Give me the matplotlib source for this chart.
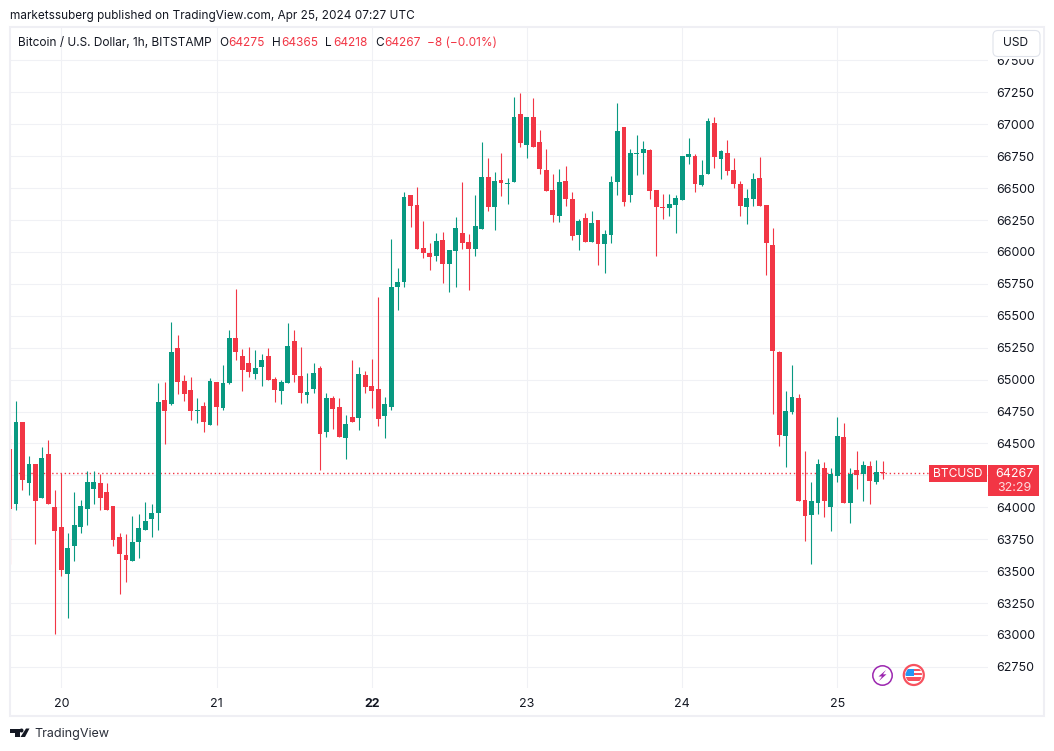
import numpy as np
import matplotlib
matplotlib.use('Agg')
import matplotlib.pyplot as plt
from matplotlib.patches import Rectangle, Circle, Polygon, FancyBboxPatch

# hourly candles, first one is Apr 19 16:00, hour 0 is Apr 20 00:00
opens = [64460, 64029, 64672, 64194, 64343, 64069, 64421, 64006,
         63849, 63481, 63700, 63849, 63990, 64147, 64194, 64123, 64014, 63771, 63630, 63583, 63732, 63826, 63912, 63959, 64844, 64813, 65244, 64993, 64922, 64758, 64797, 64648,
         64985, 64781, 64977, 65330, 65187, 65132, 65046, 65101, 65187, 65007, 64913, 64976, 65305, 65030, 64882, 64929, 65093, 64592, 64858, 64788, 64545, 64709, 64701, 65038,
         64952, 64929, 64717, 64788, 65728, 65767, 66448, 66370, 66033, 65994, 65970, 66096, 65908, 66010, 66149, 66078, 66023, 66180, 66587, 66352, 66564, 66532, 66548, 67081,
         66838, 67057, 66861, 66642, 66485, 66282, 66556, 66415, 66133, 66266, 66078, 66250, 66062, 66133, 66548, 66979, 66446, 66767, 66775, 66799, 66485, 66352, 66344, 66368,
         66408, 66744, 66752, 66525, 66611, 67011, 66729, 66776, 66643, 66533, 66353, 66416, 66580, 66369, 66055, 65217, 64559, 64747, 64857, 64058, 63940, 64034, 64308, 64003,
         64246, 64551, 64034, 64293, 64261, 64324, 64199, 64275]
highs = [64570, 64836, 64672, 64398, 64343, 64476, 64531, 64139,
         64270, 63802, 64116, 64061, 64288, 64288, 64257, 64194, 64014, 63802, 63794, 63935, 63951, 64045, 64022, 64977, 64985, 65455, 65353, 65040, 65024, 64860, 64821, 65009,
         64985, 65118, 65392, 65713, 65242, 65258, 65234, 65203, 65250, 65023, 64999, 65446, 65391, 65258, 65054, 65132, 65109, 64897, 64874, 64858, 64725, 65156, 65101, 65070,
         65164, 65649, 64866, 66103, 65876, 66472, 66448, 66511, 66245, 66072, 66151, 66158, 66017, 66276, 66548, 66141, 66446, 66861, 66736, 66626, 66775, 66579, 67214, 67245,
         67057, 67206, 66955, 66806, 66611, 66650, 66673, 66470, 66258, 66305, 66321, 66250, 66172, 66595, 67167, 66979, 66806, 66916, 66869, 66806, 66485, 66454, 66454, 66446,
         66752, 66893, 66768, 66721, 67050, 67058, 66799, 66878, 66737, 66557, 66494, 66619, 66744, 66369, 66188, 65225, 64912, 65115, 64888, 64442, 64199, 64379, 64355, 64308,
         64708, 64661, 64308, 64442, 64363, 64363, 64371, 64365]
lows = [63559, 63982, 64139, 64100, 63716, 64069, 64029, 63011,
        63465, 63136, 63583, 63802, 63865, 64022, 63975, 63975, 63693, 63324, 63418, 63583, 63606, 63826, 63771, 63826, 64499, 64805, 64891, 64836, 64687, 64664, 64593, 64648,
        64648, 64766, 64962, 65150, 64913, 65023, 65007, 64952, 65000, 64827, 64811, 64976, 64983, 64819, 64819, 64897, 64294, 64553, 64615, 64553, 64380, 64670, 64607, 64897,
        64780, 64639, 64545, 64764, 65547, 65728, 66198, 66025, 65955, 65861, 65931, 65759, 65688, 65728, 66023, 65702, 65968, 66180, 66321, 66172, 66438, 66376, 66548, 66822,
        66736, 66822, 66611, 66478, 66235, 66235, 66360, 66094, 66015, 66078, 66078, 65898, 65835, 66070, 66446, 66360, 66391, 66603, 66611, 66415, 65968, 66258, 66282, 66149,
        66408, 66690, 66470, 66517, 66611, 66658, 66572, 66604, 66502, 66282, 66220, 66361, 66361, 65820, 64731, 64481, 64316, 64731, 64050, 63737, 63556, 63948, 63925, 63815,
        64199, 64034, 63878, 64144, 64050, 64026, 64183, 64218]
closes = [63990, 64672, 64210, 64343, 64053, 64390, 64029, 63818,
          63505, 63685, 63865, 64014, 64202, 64202, 64076, 63982, 63740, 63638, 63591, 63732, 63841, 63896, 63959, 64828, 64758, 65220, 64985, 64891, 64758, 64766, 64672, 64993,
          64789, 64977, 65330, 65220, 65077, 65062, 65093, 65156, 65000, 64921, 64983, 65265, 65038, 64897, 64905, 65054, 64576, 64858, 64772, 64553, 64654, 64670, 65046, 64944,
          64913, 64694, 64811, 65728, 65767, 66433, 66362, 66025, 65994, 65963, 66088, 65908, 66017, 66190, 66070, 66023, 66203, 66587, 66352, 66556, 66540, 66540, 67057, 66854,
          67057, 66822, 66650, 66478, 66290, 66548, 66415, 66125, 66243, 66078, 66227, 66062, 66141, 66548, 66947, 66391, 66775, 66775, 66806, 66478, 66352, 66344, 66376, 66423,
          66752, 66768, 66533, 66604, 67027, 66744, 66791, 66635, 66533, 66361, 66423, 66572, 66361, 66071, 65225, 64567, 64755, 64865, 64050, 63933, 64050, 64340, 64050, 64261,
          64559, 64034, 64261, 64254, 64332, 64207, 64277, 64267]

price_ticks = [62750, 63000, 63250, 63500, 63750, 64000, 64250, 64500, 64750, 65000, 65250,
               65500, 65750, 66000, 66250, 66500, 66750, 67000, 67250, 67500]
day_labels = ['20', '21', '22', '23', '24', '25']
last_price = 64267

UP = '#089981'
DOWN = '#F23645'
GRID = '#F0F1F5'
FRAME = '#EFEFF4'
TEXT = '#131722'
W, H = 1054, 751
plt.rcParams['font.family'] = ['Inter', 'DejaVu Sans']


def fx(x):
    return x / W


def fy(y):
    return 1 - y / H


def label(x, y, s, color=TEXT, size=12.0, ha='left', **kw):
    return fig.text(fx(x), fy(y), s, color=color, fontsize=size * 0.72, ha=ha, va='center', **kw)


def box(x0, y0, x1, y1, **kw):
    p = Rectangle((fx(x0), fy(y1)), (x1 - x0) / W, (y1 - y0) / H, transform=fig.transFigure, **kw)
    fig.add_artist(p)
    return p


fig = plt.figure(figsize=(W / 100, H / 100), dpi=100)

# plot area in pixels: x 10..988, y 28..688
ax = fig.add_axes([fx(10), fy(688), (988 - 10) / W, (688 - 28) / H])
px_per_hour = 6.467
ax.set_xlim((10 - 61.3) / px_per_hour, (988 - 61.3) / px_per_hour)
ax.set_ylim(67000 - (688 - 124.3) * 7.833, 67000 + (124.3 - 28) * 7.833)
for s in ax.spines.values():
    s.set_visible(False)

hours = np.arange(len(opens)) - 8
opens = np.array(opens)
closes = np.array(closes)
colors = np.where(closes >= opens, UP, DOWN)
wicks = ax.vlines(hours, lows, highs, colors=colors, linewidth=0.8, zorder=3)
wicks.set_snap(True)
ax.bar(hours, np.abs(closes - opens), bottom=np.minimum(opens, closes), width=0.75,
       color=colors, linewidth=0, zorder=4)
ax.axhline(last_price, color=DOWN, linewidth=1.0, linestyle=(0, (1, 2)), zorder=2)

ax.set_xticks(np.arange(len(day_labels)) * 24)
ax.set_xticklabels(day_labels)
ax.get_xticklabels()[2].set_fontweight('bold')
ax.yaxis.tick_right()
ax.set_yticks(price_ticks)
# 64250 keeps its grid line, its label is hidden behind the price tag
ax.set_yticklabels(['' if p == 64250 else str(p) for p in price_ticks])
ax.tick_params(axis='both', length=0, labelsize=9.0, labelcolor=TEXT)
ax.tick_params(axis='x', pad=7.5)
ax.tick_params(axis='y', pad=6.2)
ax.grid(True, color=GRID, linewidth=0.8, zorder=0)
ax.set_axisbelow(True)

# chart frame
fig.add_artist(Rectangle((fx(10), fy(716)), (1044 - 10) / W, (716 - 27) / H, transform=fig.transFigure,
                         fill=False, edgecolor=FRAME, linewidth=1.5))

# header
label(10, 16, 'marketssuberg published on TradingView.com, Apr 25, 2024 07:27 UTC', size=11.8)
label(18, 43, 'Bitcoin / U.S. Dollar, 1h, BITSTAMP', size=11.85)
for x, s, c in [(219, 'O', TEXT), (228, '64275', DOWN), (272, 'H', TEXT), (281, '64365', DOWN),
                (325, 'L', TEXT), (333, '64218', DOWN), (375, 'C', TEXT), (384, '64267', DOWN),
                (427, '\u22128 (\u22120.01%)', DOWN)]:
    label(x, 43, s, color=c, size=11.85)

pxt = matplotlib.transforms.Affine2D().scale(1 / W, 1 / H) + fig.transFigure

# currency button sits on top of the 67500 label
box(989, 28, 1043, 58.5, facecolor='white', edgecolor='none')
btn = FancyBboxPatch((993, 751 - 56.5), 47, 26, boxstyle='round,pad=0,rounding_size=5',
                     facecolor='white', edgecolor='#E0E3EB', linewidth=0.8, transform=pxt)
fig.add_artist(btn)
label(1015.5, 43.5, 'USD', size=12, ha='center')

# last price tags
box(929, 465, 987, 482, facecolor=DOWN, edgecolor='none')
box(988, 465, 1039, 496, facecolor=DOWN, edgecolor='none')
label(958, 473.5, 'BTCUSD', color='white', size=12, ha='center')
label(1014, 473.5, str(last_price), color='white', size=12.4, ha='center')
label(1014, 488, '32:29', color='#FDDDE0', size=12.4, ha='center')

# event icons
cx, cy = 882.5, 751 - 675.5
fig.add_artist(Circle((cx, cy), 9.7, facecolor='white', edgecolor='#9C27B0', linewidth=1.1, transform=pxt))
fig.add_artist(Polygon([(cx + 3.5, cy + 5.5), (cx - 4, cy - 1), (cx - 0.5, cy - 1), (cx - 3.5, cy - 5.5),
                        (cx + 4, cy + 1.2), (cx + 0.5, cy + 1.2)], closed=True, facecolor='#9C27B0',
                       edgecolor='none', transform=pxt))

fx0, fy0 = 913.8, 751 - 675
ring = Circle((fx0, fy0), 10, facecolor='white', edgecolor='#F7525F', linewidth=1.6, transform=pxt)
fig.add_artist(ring)
inner = Circle((fx0, fy0), 8.2, transform=pxt)
for (x, y, w, h, c) in [(-9, 4, 18, 2.4, '#F7525F'), (-9, -0.4, 18, 2.4, '#F7525F'),
                        (-9, -5.5, 18, 3.4, '#F7525F'), (-9, -1, 9, 6.6, '#2196F3')]:
    r = Rectangle((fx0 + x, fy0 + y), w, h, facecolor=c, edgecolor='none', transform=pxt)
    fig.add_artist(r)
    r.set_clip_path(inner)
    r.set_clip_on(True)

# TradingView logo
logo = [[(10, 728.5), (19.5, 728.5), (19.5, 737), (14.5, 737), (14.5, 732.5), (10, 732.5)],
        [(26, 728.5), (29.5, 728.5), (25, 737), (20.5, 737)]]
for pts in logo:
    fig.add_artist(Polygon([(x, 751 - y) for x, y in pts], closed=True, facecolor='#131722',
                           edgecolor='none', transform=pxt))
fig.add_artist(Circle((21.5, 751 - 730.5), 2, facecolor='#131722', edgecolor='none', transform=pxt))
label(34, 734.5, 'TradingView', color='#2A2E39', size=12.6)

fig.savefig('out.png', dpi=100)
